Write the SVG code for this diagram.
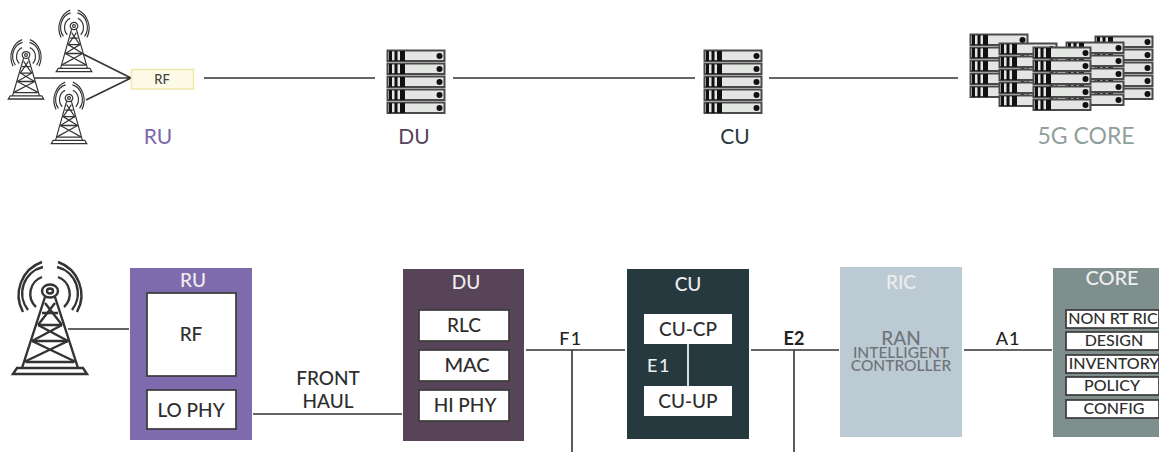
<svg xmlns="http://www.w3.org/2000/svg" width="1159" height="452" viewBox="0 0 1159 452">
<style>
text{font-family:"Lato","Noto Sans","Liberation Sans",sans-serif;text-anchor:middle;font-weight:500}
.ln{stroke:#333;stroke-width:1.6;fill:none}
.t{stroke:#333;stroke-width:2.4;fill:none}
.in{fill:#fff;stroke:#3a3a3a;stroke-width:1.7}
.lb{font-size:19px;fill:#2e2e2e}
.cl{font-size:16px;fill:#2e2e2e}
.w{fill:#eee}
.top{font-weight:400}
</style>
<defs>
<g id="tower">
<g class="t">
<ellipse rx="8" ry="6.500"/><ellipse rx="3" ry="2.500"/>
<path d="M-5 6L-28 77M5 6L28 77"/>
<path d="M-8 22H8M-12 34H12M-18 50H18M-24 71H24"/>
<path d="M-5 12L12 34M5 12L-12 34M-12 34L18 50M12 34L-18 50M-18 50L26 71M18 50L-26 71"/>
<path d="M-37 83L-33 77H33L37 83Z"/>
<path d="M-8 -14A18 18 0 0 0 -14 16M8 -14A18 18 0 0 1 14 16"/>
<path d="M-7 -24A27 27 0 0 0 -22 19M7 -24A27 27 0 0 1 22 19"/>
<path d="M-8 -29A35 35 0 0 0 -27 21M8 -29A35 35 0 0 1 27 21"/>
</g>
</g>
<g id="unit">
<rect x="0.500" y="0.500" width="57" height="10.500" fill="#e4e6e4" stroke="#4a4a4a" stroke-width="2"/>
<path d="M2 1h3v10h-3zM7.500 1h3v10h-3zM13 1h5v10h-5z" fill="#111"/>
<circle cx="52.500" cy="6" r="3" fill="#111"/>
</g>
<g id="rack">
<use href="#unit"/><use href="#unit" y="13"/><use href="#unit" y="26"/><use href="#unit" y="39"/><use href="#unit" y="52"/>
</g>
</defs>

<g id="connectors">
<path class="ln" d="M131 78L35 78M131 78L83 54M131 78L86 100"/>
<path class="ln" d="M204 78H375M453 78H695M769 78H958"/>
<path class="ln" d="M68 329H129M253 414H402M526 350H625M572 350V452M751 350H839M794 350V452M964 350H1052"/>
</g>

<g id="top-ru">
<use href="#tower" transform="translate(26 55) scale(.48 .53)"/>
<use href="#tower" transform="translate(74 26) scale(.48 .55)"/>
<use href="#tower" transform="translate(69 98) scale(.48 .55)"/>
<rect x="131.500" y="69.500" width="62" height="19.500" fill="#fdfbe8" stroke="#eee9a8" stroke-width="1.500"/>
<text x="162" y="84" font-size="13" fill="#444">RF</text>
<text x="158" y="144" font-size="21" fill="#7b68ad" class="top">RU</text>
</g>
<g id="top-du">
<use href="#rack" x="387" y="50"/>
<text x="414" y="144" font-size="21" fill="#574459" class="top">DU</text>
</g>
<g id="top-cu">
<use href="#rack" x="704" y="50"/>
<text x="735" y="144" font-size="21" fill="#25393f" class="top">CU</text>
</g>
<g id="top-core">
<use href="#rack" x="970" y="34"/>
<use href="#rack" x="1095" y="36"/>
<use href="#rack" x="999" y="43"/>
<use href="#rack" x="1066" y="42"/>
<use href="#rack" x="1033" y="47"/>
<text x="1086" y="144" font-size="23" fill="#8f9f9d" class="top">5G CORE</text>
</g>

<g id="tower-main"><use href="#tower" transform="translate(50 291)"/></g>

<g id="ru">
<rect x="130" y="268" width="122" height="172" fill="#7e6bae"/>
<text x="193" y="287" font-size="19" class="w">RU</text>
<rect class="in" x="147" y="293" width="89" height="83"/>
<text x="191" y="341" class="lb">RF</text>
<rect class="in" x="147" y="390" width="89" height="39"/>
<text x="191" y="417" class="lb">LO PHY</text>
</g>
<g id="fronthaul">
<text x="328" y="385" font-size="19" fill="#2e2e2e">FRONT</text>
<text x="328" y="408" font-size="19" fill="#2e2e2e">HAUL</text>
</g>
<g id="du">
<rect x="403" y="269" width="121" height="172" fill="#574459"/>
<text x="466" y="289" font-size="19" class="w">DU</text>
<rect class="in" x="419" y="310" width="90" height="31"/>
<text x="464" y="332" class="lb">RLC</text>
<rect class="in" x="419" y="350" width="90" height="31"/>
<text x="467" y="372" font-size="20" fill="#2e2e2e">MAC</text>
<rect class="in" x="419" y="390" width="90" height="31"/>
<text x="465" y="412" class="lb">HI PHY</text>
</g>
<text id="f1" x="571" y="345" font-size="18" fill="#222" letter-spacing="1.500">F1</text>
<g id="cu">
<rect x="627" y="269" width="122" height="170" fill="#25393f"/>
<text x="688" y="291" font-size="19" class="w">CU</text>
<path d="M688 344V386" stroke="#ddd" stroke-width="2"/>
<rect x="644" y="314" width="88" height="30" fill="#fff"/>
<text x="688" y="336" class="lb">CU-CP</text>
<text x="659" y="372" font-size="18" class="w" letter-spacing="1.500">E1</text>
<rect x="644" y="386" width="88" height="30" fill="#fff"/>
<text x="688" y="408" class="lb">CU-UP</text>
</g>
<text id="e2" x="794" y="345" font-size="18" fill="#222" style="font-weight:700">E2</text>
<g id="ric">
<rect x="840" y="267" width="122" height="170" fill="#bccad4"/>
<text x="901" y="289" font-size="19" class="w">RIC</text>
<text x="901" y="345" font-size="19" fill="#6f7478">RAN</text>
<text x="901" y="358" font-size="15.500" fill="#6f7478">INTELLIGENT</text>
<text x="901" y="371" font-size="15.500" fill="#6f7478">CONTROLLER</text>
</g>
<text id="a1" x="1008" y="345" font-size="18" fill="#222" letter-spacing="1">A1</text>
<g id="core">
<rect x="1053" y="268" width="106" height="169" fill="#7f8f8d"/>
<text x="1112" y="285" font-size="20" class="w">CORE</text>
<rect class="in" x="1066" y="310" width="93" height="18"/>
<text x="1113" y="323.500" class="cl">NON RT RIC</text>
<rect class="in" x="1066" y="332" width="93" height="18"/>
<text x="1114" y="346" class="cl">DESIGN</text>
<rect class="in" x="1066" y="355" width="93" height="18"/>
<text x="1114" y="368.500" class="cl">INVENTORY</text>
<rect class="in" x="1066" y="377" width="93" height="18"/>
<text x="1112" y="391" class="cl">POLICY</text>
<rect class="in" x="1066" y="400" width="93" height="18"/>
<text x="1114" y="413.500" class="cl">CONFIG</text>
</g>
</svg>
